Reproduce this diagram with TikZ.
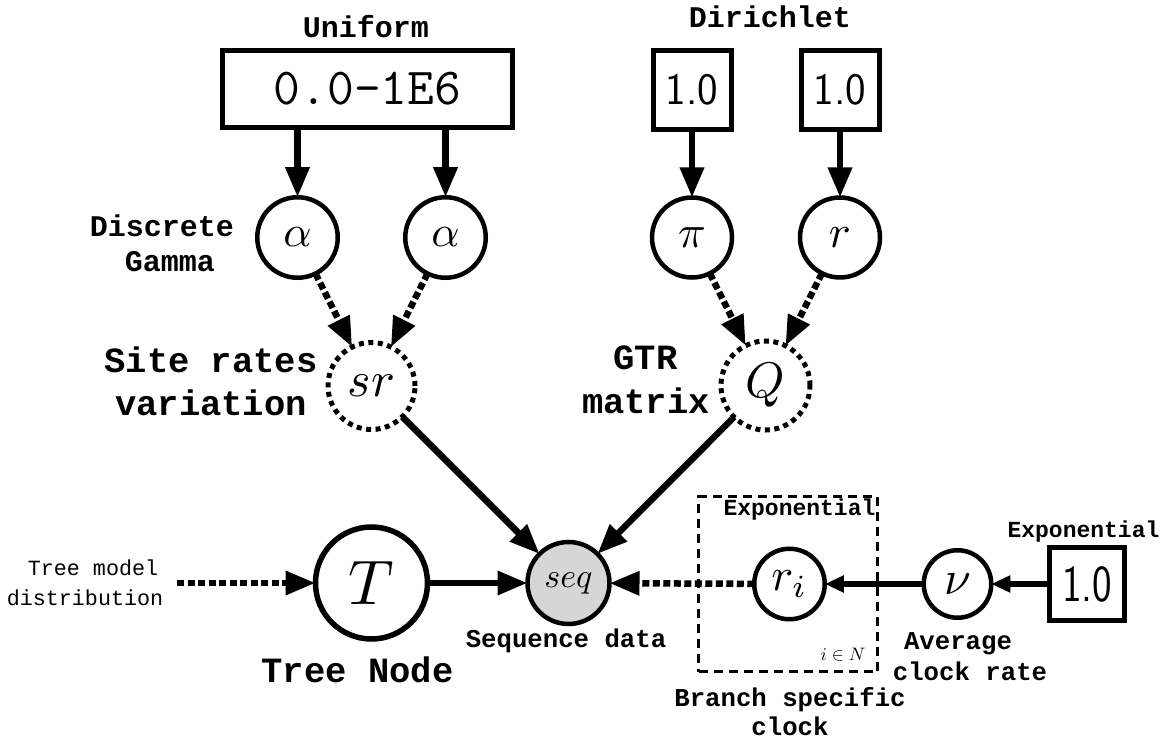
\documentclass[tikz,border=0pt]{standalone}
\usepackage{fontspec}
\usepackage{graphicx}
\usetikzlibrary{arrows.meta}
\newfontfamily\monolab{Liberation Mono}
\definecolor{obsgray}{RGB}{214,214,214}
% math symbol, scaled up from the 10pt math size
\newcommand\msym[2]{\scalebox{#1}{$#2$}}
% bold typewriter label at a given size
\newcommand\lab[1]{\fontsize{#1}{#1}\selectfont\monolab\bfseries}
% fixed hyperparameter value: font size, horizontal squeeze
\newcommand\unitval[2]{\fontsize{#1}{#1}\selectfont\sffamily\scalebox{#2}[1]{1.0}}

\tikzset{
  every node/.style={inner sep=0pt, outer sep=0pt},
  rv/.style={circle, draw, line width=4.5pt, minimum size=#1},
  latent/.style={rv=#1, line width=5pt, dash pattern=on 5pt off 4.5pt},
  observed/.style={rv=#1, fill=obsgray},
  hyper/.style={draw, line width=5pt},
  plate/.style={draw, line width=3pt, dash pattern=on 9pt off 6pt},
  edge/.style={line width=6.5pt, -{Triangle[length=30pt,width=23pt]}},
  softedge/.style={edge, dash pattern=on 7pt off 3.5pt},
  smalledge/.style={line width=6.5pt, -{Triangle[length=19pt,width=16pt]}},
  lbl/.style={anchor=base, font={\lab{#1}}},
  thinlbl/.style={anchor=base, font={\fontsize{#1}{#1}\selectfont\monolab}},
}

\begin{document}
\begin{tikzpicture}[x=1pt,y=-1pt]
\fill[white] (0,0) rectangle (1173,743);
\useasboundingbox (0,0) rectangle (1173,743);

% hyperparameters
\node[hyper, minimum width=290pt, minimum height=77pt] (uni) at (367.5,89) {\fontsize{52}{52}\selectfont\ttfamily 0.0-1E6};
\node[hyper, minimum width=78pt, minimum height=79pt] (dpi) at (692,90) {\unitval{45}{0.97}};
\node[hyper, minimum width=78pt, minimum height=79pt] (dr) at (840,90) {\unitval{45}{0.97}};
\node[hyper, minimum width=75pt, minimum height=73pt] (enu) at (1087,584) {\unitval{52}{0.8}};

% random variables
\node[rv=80.5pt] (aL) at (297.5,237.5) {\msym{4.4}{\alpha}};
\node[rv=80.5pt] (aR) at (445.5,237.5) {\msym{4.4}{\alpha}};
\node[rv=80pt] (pi) at (692,237.5) {\msym{4.6}{\pi}};
\node[rv=80pt] (rr) at (840,237.5) {\msym{4.6}{r}};
\node[latent=87pt] (sr) at (371.5,386) {\msym{5}{sr}};
\node[latent=89pt] (Q) at (765.5,385.5) {\msym{5}{Q}};
\node[rv=112pt, line width=5.5pt] (T) at (371.5,583) {\msym{6.3}{T}};
\node[observed=82pt] (seq) at (568.5,583) {\msym{3.4}{seq}};
\node[rv=70.5pt] (ri) at (789.5,584) {\msym{4.6}{r_i}};
\node[rv=67.5pt] (nu) at (957.5,584) {\msym{4.8}{\nu}};

% branch plate
\node[plate, minimum width=179pt, minimum height=175pt] (pl) at (788,584) {};
\node (idx) at (843,655) {\msym{1.8}{i \in N}};

% labels
\node[lbl=30] (uniL) at (366,38) {Uniform};
\node[lbl=30] (dirL) at (770,28) {Dirichlet};
\node[lbl=30] (dg1) at (162,237) {Discrete};
\node[lbl=30] (dg2) at (170,272) {Gamma};
\node[lbl=35.5] (srL1) at (211,372) {Site rates};
\node[lbl=35.5] (srL2) at (211,415) {variation};
\node[lbl=35.5] (gtr1) at (645.5,370) {GTR};
\node[lbl=35.5] (gtr2) at (646,413) {matrix};
\node[lbl=35.5] (tn) at (357.5,682) {Tree Node};
\node[lbl=25.7] (sd) at (566,647) {Sequence data};
\node[lbl=23] (ex1) at (799.5,515) {Exponential};
\node[lbl=23] (ex2) at (1083.5,537) {Exponential};
\node[lbl=25.7] (acr1) at (958,649) {Average};
\node[lbl=25.7] (acr2) at (970,680) {clock rate};
\node[lbl=25.7] (bsc1) at (790,706) {Branch specific};
\node[lbl=25.7] (bsc2) at (790,735) {clock};
\node[thinlbl=21.7] (tm1) at (93,575) {Tree model};
\node[thinlbl=21.7] (tm2) at (85,605) {distribution};

% connectors
\coordinate (tmsrc) at (177,583);
\draw[softedge] (tmsrc) -- (T);
\draw[edge] (T) -- (seq);
\draw[edge] (aL |- uni.south) -- (aL);
\draw[edge] (aR |- uni.south) -- (aR);
\draw[edge] (dpi) -- (pi);
\draw[edge] (dr) -- (rr);
\draw[softedge] (aL) -- (sr);
\draw[softedge] (aR) -- (sr);
\draw[softedge] (pi) -- (Q);
\draw[softedge] (rr) -- (Q);
\draw[edge] (sr) -- (seq);
\draw[edge] (Q) -- (seq);
\draw[softedge] (ri) -- (seq);
\draw[smalledge] (nu) -- (ri);
\draw[smalledge] (enu) -- (nu);
\end{tikzpicture}
\end{document}
